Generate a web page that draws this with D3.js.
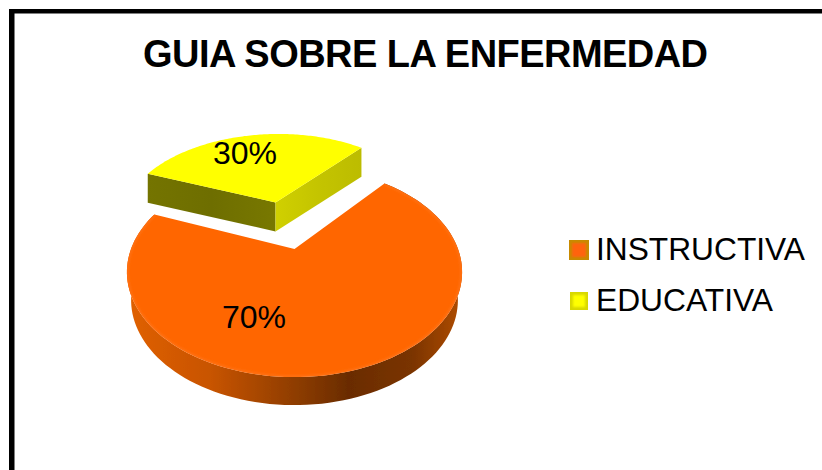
<!DOCTYPE html>
<html><head><meta charset="utf-8">
<script src="https://cdn.jsdelivr.net/npm/d3@7/dist/d3.min.js"></script>
<style>html,body{margin:0;padding:0;background:#fff}svg{display:block}text{font-family:"Liberation Sans",Arial,sans-serif;fill:#000}</style>
</head><body><svg id="c" width="822" height="470"></svg>
<script>
const categories = ["INSTRUCTIVA", "EDUCATIVA"];
const values = [70, 30];
const labels = ["70%", "30%"];
const title = "GUIA SOBRE LA ENFERMEDAD";
const topColors = ["#ff6600", "#ffff00"];
const explode = [0, 0.535];
const sliceScale = [1, 1.02];

const svg = d3.select("#c");
const W = 822, H = 470;
svg.append("rect").attr("width", W).attr("height", H).attr("fill", "#fff");
// frame: top and left only
svg.append("rect").attr("x", 9).attr("y", 9).attr("width", W - 9).attr("height", 4.5).attr("fill", "#000");
svg.append("rect").attr("x", 9).attr("y", 9).attr("width", 5.5).attr("height", H - 9).attr("fill", "#000");

svg.append("text").attr("x", 143).attr("y", 66.5).attr("font-size", 38).attr("font-weight", "bold")
  .attr("textLength", 565).attr("lengthAdjust", "spacing").text(title);

const defs = svg.append("defs");
const grad = (id, stops) => {
  const g = defs.append("linearGradient").attr("id", id).attr("gradientUnits", "userSpaceOnUse")
    .attr("x1", 127).attr("x2", 462).attr("y1", 0).attr("y2", 0);
  stops.forEach(s => g.append("stop").attr("offset", s[0]).attr("stop-color", s[1]));
};
grad("sideO", [[0, "#e06000"], [0.25, "#c85400"], [0.5, "#8f3d00"], [0.66, "#6a2c00"], [0.85, "#7a3400"], [1, "#b04c00"]]);
const mkBlur = (id, sd) => defs.append("filter").attr("id", id).attr("x", "-20%").attr("y", "-20%").attr("width", "140%").attr("height", "140%")
  .append("feGaussianBlur").attr("stdDeviation", sd);
mkBlur("soft", 1.6);
mkBlur("softer", 0.9);
mkBlur("edge", 0.5);

// perspective projection of a flat unit disc
const cx = 294.5, cy = 249, A = 163.5, B = 100, P = 0.2195;
const project = (u, v) => { const w = 1 + P * v; return [cx + A * u / w, cy - B * v / w]; };

const pie = d3.pie().sort(null).startAngle(40 * Math.PI / 180).endAngle(400 * Math.PI / 180);
const arcs = pie(values);

function geom(d, i) {
  const mid = (d.startAngle + d.endAngle) / 2;
  const ox = explode[i] * Math.sin(mid), oy = explode[i] * Math.cos(mid), r = sliceScale[i];
  const a = d3.scaleLinear().domain([0, 1]).range([d.startAngle, d.endAngle]);
  const rim = d3.range(0, 1.0001, 1 / 120).map(t => project(ox + r * Math.sin(a(t)), oy + r * Math.cos(a(t))));
  return { apex: project(ox, oy), rim };
}
const line = d3.line();
const shift = (pts, dy) => pts.map(p => [p[0], p[1] + dy]);
const taper = (pts, dy, k) => pts.map(p => [cx + (p[0] - cx) * k, p[1] + dy]);

// 70% slice
const gO = geom(arcs[0], 0), dO = 28;
const sideO = gO.rim.concat(taper(gO.rim, dO, 0.975).reverse());
svg.append("path").attr("d", line(sideO) + "Z").attr("fill", "url(#sideO)").attr("filter", "url(#edge)");
const topO = [gO.apex].concat(gO.rim);
svg.append("path").attr("d", line(topO) + "Z").attr("fill", topColors[0]);
const clipO = defs.append("clipPath").attr("id", "clipO");
clipO.append("path").attr("d", line(topO) + "Z");
svg.append("g").attr("clip-path", "url(#clipO)").append("path").attr("d", line(gO.rim))
  .attr("fill", "none").attr("stroke", "#ff8030").attr("stroke-opacity", 0.7).attr("stroke-width", 2).attr("filter", "url(#soft)");

// 30% slice
const gY = geom(arcs[1], 1), dY = 29;
const L = gY.rim[0], R = gY.rim[gY.rim.length - 1], Ap = gY.apex;
const grY = defs.append("linearGradient").attr("id", "sideY").attr("gradientUnits", "userSpaceOnUse")
  .attr("x1", L[0]).attr("x2", Ap[0]).attr("y1", 0).attr("y2", 0);
[[0, "#747400"], [0.5, "#6e6e00"], [1, "#787800"]].forEach(s => grY.append("stop").attr("offset", s[0]).attr("stop-color", s[1]));
const grR = defs.append("linearGradient").attr("id", "sideYR").attr("gradientUnits", "userSpaceOnUse")
  .attr("x1", Ap[0]).attr("x2", R[0]).attr("y1", 0).attr("y2", 0);
[[0, "#d0d000"], [0.5, "#c4c400"], [1, "#bcbc00"]].forEach(s => grR.append("stop").attr("offset", s[0]).attr("stop-color", s[1]));
svg.append("path").attr("d", line([L, Ap].concat(shift([Ap, L], dY))) + "Z").attr("fill", "url(#sideY)");
svg.append("path").attr("d", line([Ap, R].concat(shift([R, Ap], dY))) + "Z").attr("fill", "url(#sideYR)");
svg.append("path").attr("d", line([Ap].concat(gY.rim)) + "Z").attr("fill", topColors[1]);

// value labels
svg.append("text").attr("x", 222).attr("y", 328).attr("font-size", 32).text(labels[0]);
svg.append("text").attr("x", 213).attr("y", 164).attr("font-size", 32).text(labels[1]);

// legend
const legY = d3.scalePoint().domain(categories).range([260, 311]);
const swSize = [20, 18], swEdge = ["#c88a00", "#d8d800"], swCore = ["#ff6410", "#ffff00"];
categories.forEach((c, i) => {
  const y = legY(c), s = swSize[i], x0 = 579 - s / 2, y0 = y - i - s;
  svg.append("rect").attr("x", x0).attr("y", y0).attr("width", s).attr("height", s).attr("fill", swEdge[i]);
  svg.append("rect").attr("x", x0 + 3).attr("y", y0 + 3).attr("width", s - 6).attr("height", s - 6)
    .attr("fill", swCore[i]).attr("filter", "url(#softer)");
  svg.append("text").attr("x", 596).attr("y", y).attr("font-size", 32).attr("textLength", i ? 177 : 209).attr("lengthAdjust", "spacingAndGlyphs").text(c);
});
</script></body></html>
